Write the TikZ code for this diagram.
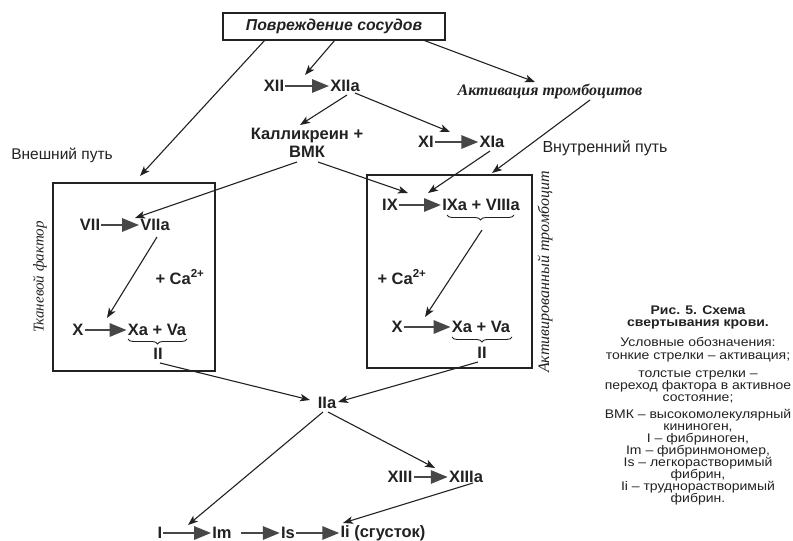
\documentclass[tikz,border=0pt]{standalone}
\usepackage{fontspec}
\setmainfont{Liberation Sans}
\newfontfamily\serifit{Liberation Serif}
\newfontfamily\legfont[FakeStretch=1.12]{Liberation Sans}
\usetikzlibrary{arrows.meta,decorations.pathreplacing}
\definecolor{ink}{HTML}{222222}
\definecolor{arr}{HTML}{474747}
\begin{document}
\begin{tikzpicture}[x=1pt,y=-1pt,
  lab/.style={font=\bfseries\fontsize{16.5}{18}\selectfont, text=ink, inner sep=0pt},
  reg/.style={font=\fontsize{15.5}{17}\selectfont, text=ink, inner sep=0pt},
  fine/.style={draw=ink, line width=1.1pt, -{Stealth[length=10pt,width=7.5pt,inset=2.5pt]}},
  fat/.style={draw=arr, line width=2.8pt, shorten <=1pt, shorten >=1pt, -{Triangle[length=17pt,width=13pt]}},
  frame/.style={draw=ink, line width=1.9pt},
  br/.style={draw=ink, line width=0.9pt, decorate, decoration={brace,mirror,amplitude=5pt}},
  leg/.style={font=\legfont\fontsize{12.5}{12}\selectfont, align=center, text=ink, inner sep=0pt},
]
\useasboundingbox[fill=white] (0,0) rectangle (793,541);

% top
\node[draw=ink, line width=2.4pt, minimum width=222pt, minimum height=27pt, inner sep=0pt,
  font=\bfseries\itshape\fontsize{15.8}{17}\selectfont, text=ink] (top) at (334,26.5) {Повреждение сосудов};
\node[font=\serifit\bfseries\itshape\fontsize{16}{18}\selectfont, text=ink, inner sep=0pt] (act) at (550,91) {Активация тромбоцитов};

\node[lab] (XII) at (274,86) {XII};
\node[lab] (XIIa) at (345,86) {XIIa};
\draw[fat] (XII.east) -- (XIIa.west);

\node[lab, align=center, font=\bfseries\fontsize{16.5}{17.5}\selectfont] (kal) at (307,143) {Калликреин +\\ВМК};

\node[lab] (XI) at (426,142) {XI};
\node[lab] (XIa) at (492,142) {XIa};
\draw[fat] (XI.east) -- (XIa.west);

\node[reg] (vnesh) at (62,155) {Внешний путь};
\node[reg, font=\fontsize{16}{17}\selectfont] (vnutr) at (605,148) {Внутренний путь};

% left box
\draw[frame] (53,183) rectangle (215,371);
\node[font=\serifit\itshape\fontsize{15}{17}\selectfont, text=ink, inner sep=0pt, rotate=90] (tkan) at (40,277) {Тканевой фактор};
\node[lab] (VII) at (90,225) {VII};
\node[lab] (VIIa) at (155,225) {VIIa};
\draw[fat] (VII.east) -- (VIIa.west);
\node[lab] (CaL) at (180,277) {+ Ca\textsuperscript{2+}};
\node[lab] (XL) at (78,330) {X};
\node[lab] (XaL) at (157,330) {Xa + Va};
\draw[fat] (XL.east) -- (XaL.west);
\draw[br] (128,339) -- (187,339);
\node[lab] (IIL) at (158,354) {II};

% right box
\draw[frame] (367,175) rectangle (532,368);
\node[font=\serifit\itshape\fontsize{16}{18}\selectfont, text=ink, inner sep=0pt, rotate=90] (aktr) at (545,272) {Активированный тромбоцит};
\node[lab] (IX) at (390,205) {IX};
\node[lab] (IXa) at (481,205) {IXa + VIIIa};
\draw[fat] (IX.east) -- (IXa.west);
\draw[br] (447,215) -- (514,215);
\node[lab] (CaR) at (402,277) {+ Ca\textsuperscript{2+}};
\node[lab] (XR) at (397,327) {X};
\node[lab] (XaR) at (481,327) {Xa + Va};
\draw[fat] (XR.east) -- (XaR.west);
\draw[br] (452,337) -- (512,337);
\node[lab] (IIR) at (482,353) {II};

% lower part
\node[lab] (IIa) at (327,403) {IIa};
\node[lab] (XIII) at (400,477) {XIII};
\node[lab] (XIIIa) at (466,477) {XIIIa};
\draw[fat] (XIII.east) -- (XIIIa.west);
\node[lab] (I) at (160,533) {I};
\node[lab] (Im) at (222,533) {Im};
\node[lab] (Is) at (288,533) {Is};
\node[lab] (Ii) at (383,533) {Ii (сгусток)};
\draw[fat] (I.east) -- (Im.west);
\draw[fat] ([xshift=8pt]Im.east) -- (Is.west);
\draw[fat] (Is.east) -- (Ii.west);

% thin arrows (activation)
\coordinate (t1) at (265,40);
\coordinate (t2) at (335,40);
\coordinate (t3) at (423,40);
\coordinate (e1) at (140,176);
\coordinate (e2) at (305,75);
\coordinate (e3) at (535,82);
\draw[fine] (t1) -- (e1);
\draw[fine] (t2) -- (e2);
\draw[fine] (t3) -- (e3);
\coordinate (x12a) at (347,95);
\coordinate (x12b) at (355,93);
\draw[fine] (x12a) -- (300,125);
\draw[fine] (x12b) -- (450,132);
\coordinate (v1) at (297,162);
\coordinate (v2) at (318,162);
\draw[fine] (v1) -- (135,218);
\draw[fine] (v2) -- (408,193);
\coordinate (ac) at (590,100);
\draw[fine] (ac) -- (492,173);
\coordinate (x11) at (490,151);
\draw[fine] (x11) -- (428,193);
\coordinate (v7) at (157,237);
\draw[fine] (v7) -- (107,318);
\coordinate (b9) at (482,230);
\draw[fine] (b9) -- (425,317);
\coordinate (iiL) at (160,363);
\coordinate (iiR) at (478,362);
\draw[fine] (iiL) -- (310,400);
\draw[fine] (iiR) -- (338,402);
\coordinate (iia1) at (323,412);
\coordinate (iia2) at (328,412);
\draw[fine] (iia1) -- (188,525);
\draw[fine] (iia2) -- (435,468);
\coordinate (x13) at (473,483);
\draw[fine] (x13) -- (343,523);

% legend
\node[leg, font=\legfont\bfseries\fontsize{12.5}{11.5}\selectfont] (cap) at (698,317.5) {Рис. 5. Схема\\свертывания крови.};
\node[leg] (l1) at (698,342) {Условные обозначения:};
\node[leg] (l2) at (698,357) {тонкие стрелки – активация;};
\node[leg] (l3) at (698,387) {толстые стрелки –\\переход фактора в активное\\состояние;};
\node[leg] (l4) at (698,457.5) {ВМК – высокомолекулярный\\кининоген,\\I – фибриноген,\\Im – фибринмономер,\\Is – легкорастворимый\\фибрин,\\Ii – труднорастворимый\\фибрин.};
\end{tikzpicture}
\end{document}
